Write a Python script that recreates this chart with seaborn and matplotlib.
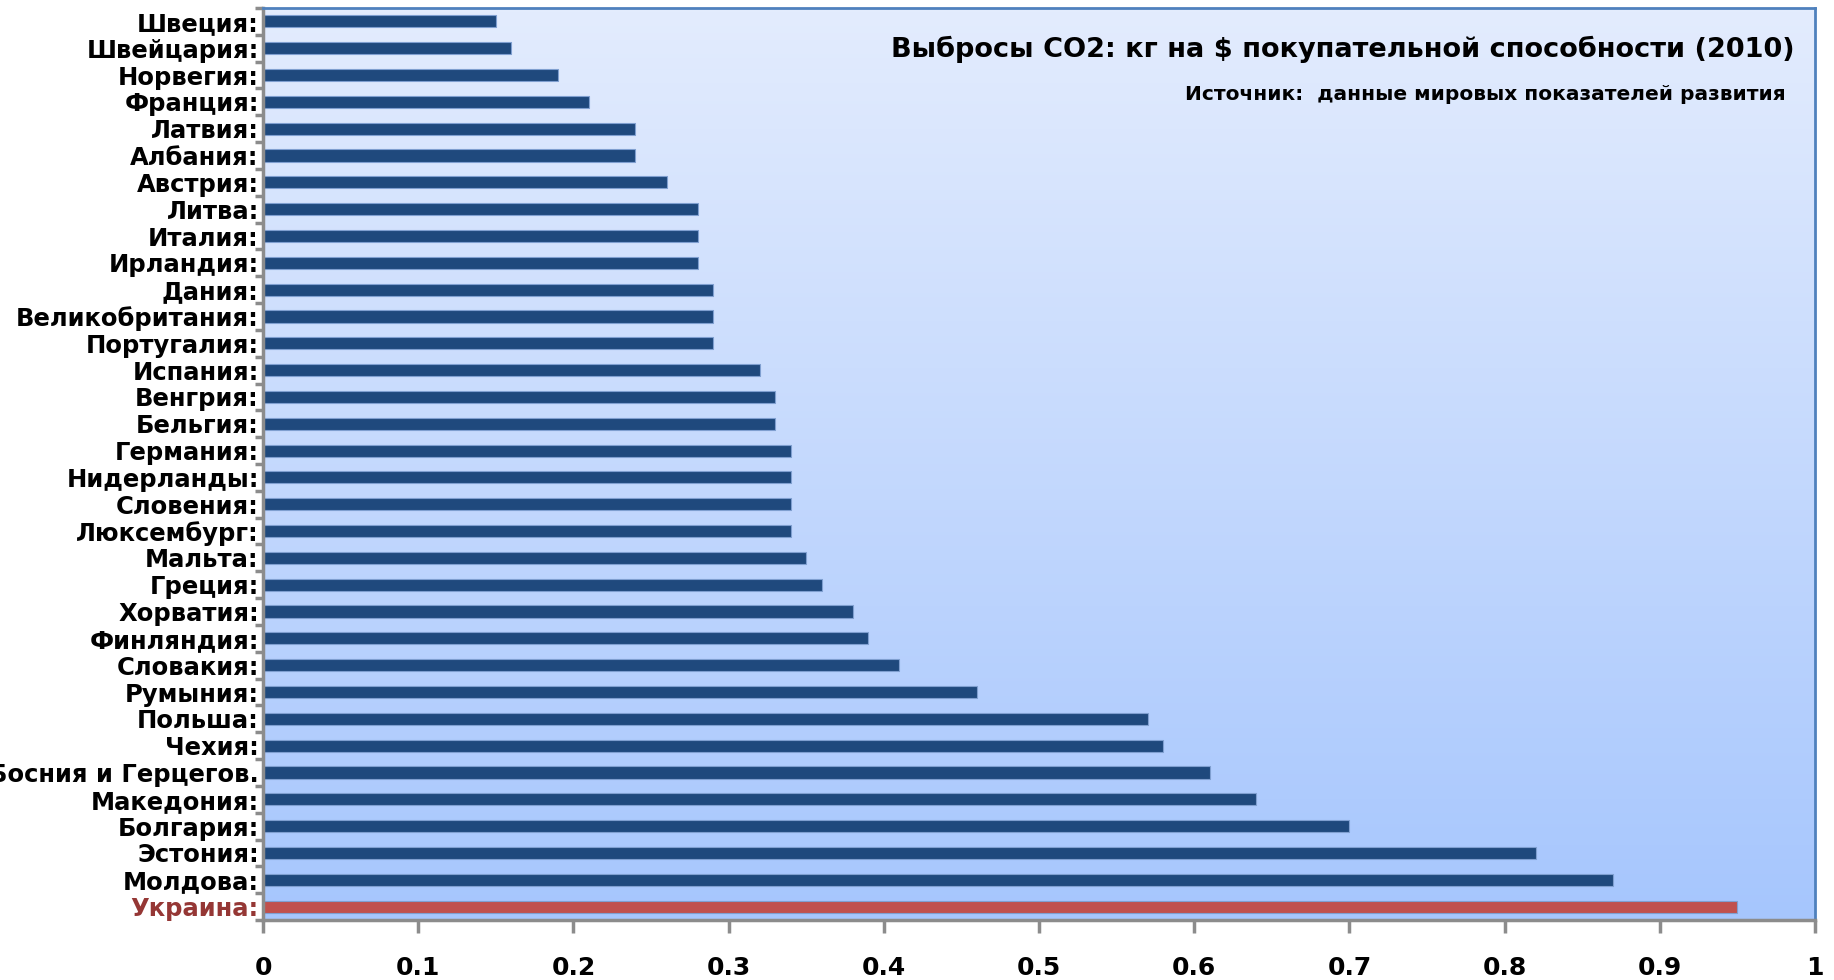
import matplotlib
matplotlib.use("Agg")
import matplotlib.pyplot as plt
import seaborn as sns
import numpy as np
import pandas as pd
from matplotlib.colors import LinearSegmentedColormap

# данные
countries = ['Швеция', 'Швейцария', 'Норвегия', 'Франция', 'Латвия', 'Албания',
             'Австрия', 'Литва', 'Италия', 'Ирландия', 'Дания', 'Великобритания',
             'Португалия', 'Испания', 'Венгрия', 'Бельгия', 'Германия', 'Нидерланды',
             'Словения', 'Люксембург', 'Мальта', 'Греция', 'Хорватия', 'Финляндия',
             'Словакия', 'Румыния', 'Польша', 'Чехия', 'Босния и Герцегов.',
             'Македония', 'Болгария', 'Эстония', 'Молдова', 'Украина']
values = [0.15, 0.16, 0.19, 0.21, 0.24, 0.24, 0.26, 0.28, 0.28, 0.28, 0.29, 0.29,
          0.29, 0.32, 0.33, 0.33, 0.34, 0.34, 0.34, 0.34, 0.35, 0.36, 0.38, 0.39,
          0.41, 0.46, 0.57, 0.58, 0.61, 0.64, 0.70, 0.82, 0.87, 0.95]
highlight = 'Украина'
title = 'Выбросы CO2: кг на $ покупательной способности (2010)'
subtitle = 'Источник:  данные мировых показателей развития'
x_ticks = [0, 0.1, 0.2, 0.3, 0.4, 0.5, 0.6, 0.7, 0.8, 0.9, 1]

df = pd.DataFrame({'Страна': countries, 'Выбросы': values})
# подписи с двоеточием (кроме сокращённых)
labels = [c if c.endswith('.') else c + ':' for c in countries]
df['Метка'] = labels

navy = '#1f497d'
red = '#c0504d'
palette = {l: (red if l.startswith(highlight) else navy) for l in labels}

plt.rcParams['font.family'] = ['DejaVu Sans']
fig = plt.figure(figsize=(18.34, 9.8), dpi=100)
ax = fig.add_axes([263 / 1834, 60 / 980, (1815 - 263) / 1834, 912 / 980])

# градиентный фон
cmap = LinearSegmentedColormap.from_list('bg', ['#e3ecfd', '#a6c6fd'])
grad = np.linspace(0, 1, 256).reshape(-1, 1)
ax.imshow(grad, cmap=cmap, aspect='auto', extent=[0, 1, 33.5, -0.5], zorder=0)

sns.barplot(data=df, x='Выбросы', y='Метка', hue='Метка', palette=palette,
            orient='h', width=0.45, legend=False, ax=ax, zorder=2,
            edgecolor='#7f9fd0', linewidth=0.8, saturation=1)

ax.set_xlim(0, 1)
ax.set_ylim(33.5, -0.5)
ax.set_xlabel('')
ax.set_ylabel('')
ax.set_xticks(x_ticks)
ax.set_xticklabels([f'{t:g}' for t in x_ticks], fontsize=18, fontweight='bold')
ax.tick_params(axis='x', length=9, width=2.5, color='#8c8c8c', pad=17)

ax.set_yticks(range(len(labels)))
ax.set_yticklabels(labels, fontsize=17.5, fontweight='bold')
ax.tick_params(axis='y', length=0, pad=3)
ax.set_yticks(np.arange(-0.5, len(labels), 1), minor=True)
ax.tick_params(axis='y', which='minor', length=6, width=2.5, color='#8c8c8c')
for t in ax.get_yticklabels():
    if t.get_text().startswith(highlight):
        t.set_color('#953735')

for s in ['left', 'bottom']:
    ax.spines[s].set_color('#8c8c8c')
    ax.spines[s].set_linewidth(2.5)
for s in ['top', 'right']:
    ax.spines[s].set_color('#4f81bd')
    ax.spines[s].set_linewidth(2)

ax.text(0.987, 0.955, title, transform=ax.transAxes, ha='right', va='center',
        fontsize=19.5, fontweight='bold')
ax.text(0.981, 0.905, subtitle, transform=ax.transAxes, ha='right', va='center',
        fontsize=14.5, fontweight='bold')

fig.savefig('out.png', dpi=100)
